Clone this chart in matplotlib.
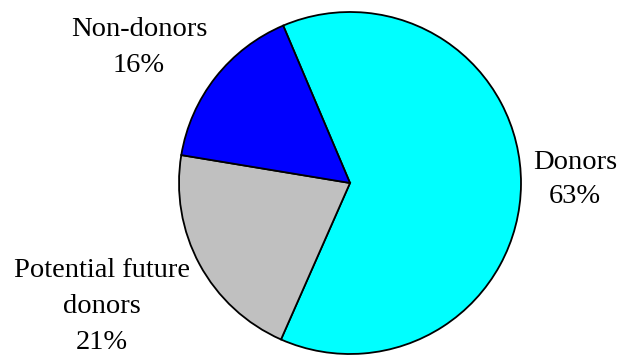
import matplotlib.pyplot as plt

labels = ["Donors", "Potential future\ndonors", "Non-donors"]
shares = [63, 21, 16]
colors = ["#00FFFF", "#C0C0C0", "#0000FF"]

plt.rcParams['font.family'] = ['Liberation Serif', 'DejaVu Serif']

W, H = 618, 355
fig = plt.figure(figsize=(W / 100, H / 100), dpi=100)
ax = fig.add_axes([0, 0, 1, 1])

# pie laid out in pixel units, y pointing up
ax.pie(shares, colors=colors, startangle=113, counterclock=False,
       center=(350, H - 183), radius=171,
       wedgeprops=dict(edgecolor='black', linewidth=1.3))
ax.set_xlim(0, W)
ax.set_ylim(0, H)
ax.set_aspect('equal')
ax.axis('off')

# label lines: (x centre, baseline y in pixels from top)
label_pos = {
    "Donors": (575, [169, 203]),
    "Potential future\ndonors": (102, [277, 313, 349]),
    "Non-donors": (139, [36, 72]),
}
for lab, val in zip(labels, shares):
    x, ys = label_pos[lab]
    lines = lab.split("\n") + [f"{val}%"]
    for line, y in zip(lines, ys):
        ax.text(x, H - y, line, ha='center', va='baseline', fontsize=20.5)

fig.savefig("out.png", dpi=100)
